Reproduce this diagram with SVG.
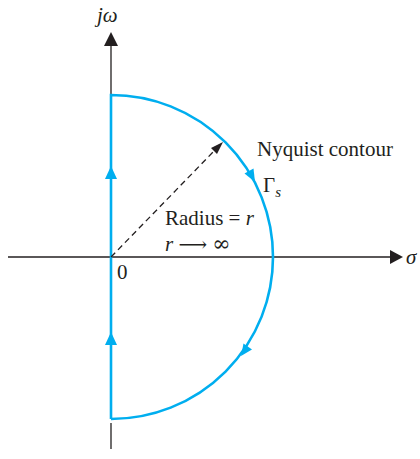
<svg xmlns="http://www.w3.org/2000/svg" width="420" height="459" viewBox="0 0 420 459">
<style>
.ax{stroke:#231f20;stroke-width:1.3;fill:none}
.c{stroke:#00aeef;stroke-width:2.6;fill:none}
.ca{fill:#00aeef}
.ah{fill:#231f20}
text{font-family:"Liberation Serif","Times New Roman",serif;font-size:21px;fill:#231f20}
.i{font-style:italic}
.m{font-family:"DejaVu Serif",serif}
</style>
<rect width="420" height="459" fill="#fff"/>
<g id="axes">
<line class="ax" x1="111" y1="44" x2="111" y2="94"/>
<line class="ax" x1="111" y1="423" x2="111" y2="449"/>
<polygon class="ah" points="111,32 104,46 118,46"/>
<line class="ax" x1="8" y1="257" x2="392" y2="257"/>
<polygon class="ah" points="403,257 390,250 390,264"/>
<text class="i" x="97" y="22">jω</text>
<text class="i" x="406" y="264">σ</text>
<text x="117" y="279">0</text>
</g>
<g id="contour">
<path class="c" d="M111,419 L111,95 A162,162 0 0 1 111,419"/>
<polygon class="ca" points="111,166 105,179 117,179"/>
<polygon class="ca" points="111,332 105,345 117,345"/>
<polygon class="ca" points="255,182 253.5,168.5 244.5,173.5"/>
<polygon class="ca" points="241,356 252,349.5 243.5,343.5"/>
</g>
<g id="labels">
<text x="257" y="156">Nyquist contour</text>
<text x="263" y="192" font-size="23">Γ<tspan class="i" font-size="15" dy="5">s</tspan></text>
</g>
<g id="connectors">
<line class="ax" x1="111" y1="257" x2="216" y2="149" stroke-dasharray="6,4"/>
<polygon class="ah" points="223,142 211,148 217,154"/>
<text x="165" y="225">Radius = <tspan class="i">r</tspan></text>
<text x="165" y="251"><tspan class="i">r</tspan> <tspan class="m" font-size="20">⟶</tspan> <tspan class="m" font-size="22">∞</tspan></text>
</g>
</svg>
